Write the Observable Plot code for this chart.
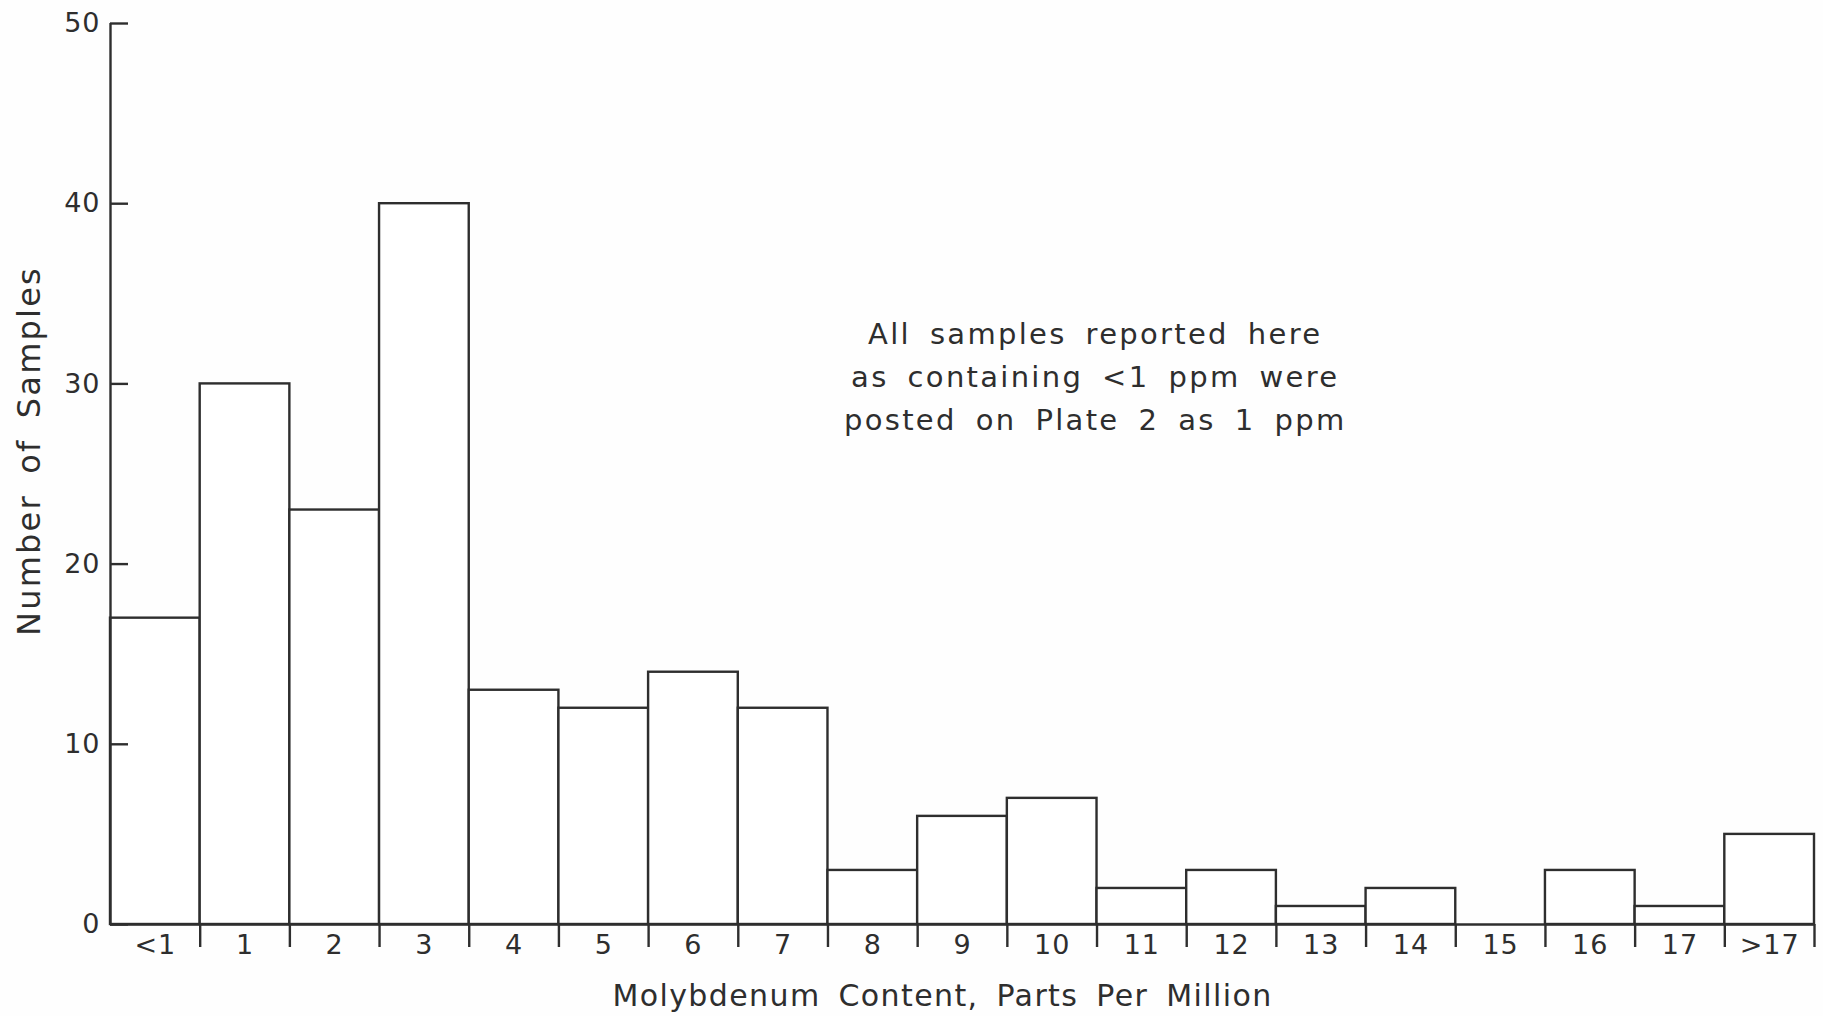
<!DOCTYPE html>
<html><head><meta charset="utf-8">
<script src="https://cdn.jsdelivr.net/npm/d3@7"></script>
<script src="https://cdn.jsdelivr.net/npm/@observablehq/plot@0.6"></script>
<style>
html,body{margin:0;padding:0;background:#fefefe;}
#chart svg{display:block;}
#chart svg text{letter-spacing:1px;word-spacing:6px;}
</style></head><body><div id="chart"></div>
<script>
const binLabels = ["<1","1","2","3","4","5","6","7","8","9","10","11","12","13","14","15","16","17",">17"];
const sampleCounts = [17,30,23,40,13,12,14,12,3,6,7,2,3,1,2,0,3,1,5];
const yTicks = [0,10,20,30,40,50];
const xTitle = "Molybdenum Content, Parts Per Million";
const yTitle = "Number of Samples";
const noteLines = ["All samples reported here","as containing <1 ppm were","posted on Plate 2 as 1 ppm"];
const noteAnchor = {bin: 10.98, count: 30.6};

const bins = binLabels.map((label, i) => ({label, i, count: sampleCounts[i]}));
const ink = "#2e2e2e";
const sw = 2.4;

const plot = Plot.plot({
  width: 1823, height: 1016,
  marginLeft: 110, marginRight: 9, marginTop: 23, marginBottom: 92,
  style: {background: "#fefefe", color: ink, fontFamily: "'DejaVu Sans', sans-serif", fontSize: "26px", overflow: "visible"},
  x: {domain: [0, binLabels.length]},
  y: {domain: [0, 50]},
  marks: [
    Plot.rectY(bins, {x1: "i", x2: d => d.i + 1, y: "count", fill: "white", stroke: ink, strokeWidth: sw}),
    Plot.ruleY([0], {stroke: ink, strokeWidth: sw}),
    Plot.ruleX([0], {stroke: ink, strokeWidth: sw}),
    Plot.axisX(d3.range(1, binLabels.length + 1), {tickSize: 23, strokeWidth: sw, stroke: ink, tickFormat: () => "", label: null}),
    Plot.axisX(bins.map(d => d.i + 0.5), {tickSize: 0, tickPadding: 10, tickFormat: v => binLabels[Math.floor(v)], fontSize: 27, fill: ink, label: null}),
    Plot.axisY(yTicks, {tickSize: 18, dx: 18, strokeWidth: sw, stroke: ink, tickFormat: () => "", label: null}),
    Plot.axisY(yTicks, {tickSize: 0, tickPadding: 10, fontSize: 27, fill: ink, label: null}),
    Plot.text([yTitle], {frameAnchor: "left", textAnchor: "middle", dx: -81, dy: -23, rotate: -90, fontSize: 32, fill: ink}),
    Plot.text([xTitle], {frameAnchor: "bottom", dx: -20, dy: 81, fontSize: 30, fill: ink}),
    Plot.text([noteLines.join("\n")], {x: noteAnchor.bin, y: noteAnchor.count, fontSize: 29, lineHeight: 1.48, textAnchor: "middle", fill: ink})
  ]
});
const spacing = [
  [t => t === yTitle, "2.2px", "8px"],
  [t => t === xTitle, "1.4px", "7px"],
  [t => t === noteLines.join(""), "2.3px", "7.5px"]
];
d3.select(plot).selectAll("text").each(function() {
  const t = this.textContent;
  for (const [test, ls, ws] of spacing) {
    if (test(t)) { this.style.letterSpacing = ls; this.style.wordSpacing = ws; }
  }
});
document.getElementById("chart").append(plot);
</script></body></html>
